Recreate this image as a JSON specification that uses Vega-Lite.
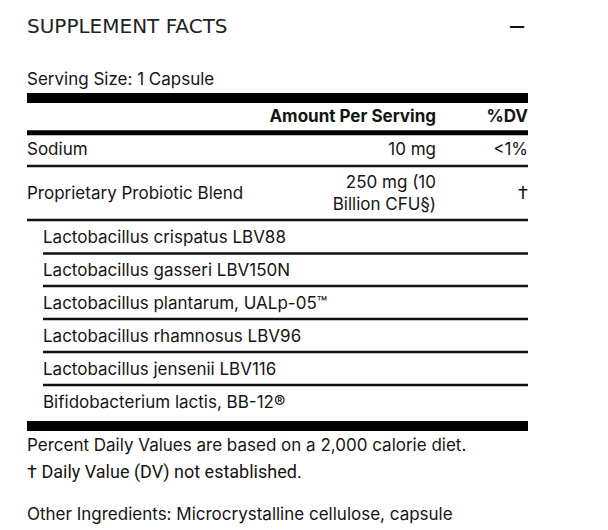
{
  "$schema": "https://vega.github.io/schema/vega-lite/v6.json",
  "width": 608,
  "height": 530,
  "autosize": {"type": "fit", "contains": "padding"},
  "padding": 0,
  "background": "white",
  "config": {"view": {"stroke": null}, "text": {"font": "Inter", "fontSize": 17, "color": "#151515", "baseline": "middle"}},
  "data": {"values": [
    {"kind": "title", "col": 0, "row": 0.62, "label": "SUPPLEMENT FACTS"},
    {"kind": "toggle", "col": 3, "row": 0.59, "label": "—"},
    {"kind": "text", "col": 0, "row": 2.22, "label": "Serving Size: 1 Capsule"},
    {"kind": "header", "col": 2, "row": 3.35, "label": "Amount Per Serving"},
    {"kind": "header", "col": 3, "row": 3.35, "label": "%DV"},
    {"kind": "text", "col": 0, "row": 4.35, "label": "Sodium"},
    {"kind": "text", "col": 2, "row": 4.35, "label": "10 mg"},
    {"kind": "text", "col": 3, "row": 4.35, "label": "<1%"},
    {"kind": "text", "col": 0, "row": 5.68, "label": "Proprietary Probiotic Blend"},
    {"kind": "text", "col": 2, "row": 5.35, "label": "250 mg (10"},
    {"kind": "text", "col": 2, "row": 6.01, "label": "Billion CFU§)"},
    {"kind": "dagger", "col": 3, "row": 5.68, "label": "†"},
    {"kind": "text", "col": 1, "row": 7, "label": "Lactobacillus crispatus LBV88"},
    {"kind": "text", "col": 1, "row": 8, "label": "Lactobacillus gasseri LBV150N"},
    {"kind": "text", "col": 1, "row": 9, "label": "Lactobacillus plantarum, UALp-05™"},
    {"kind": "text", "col": 1, "row": 10, "label": "Lactobacillus rhamnosus LBV96"},
    {"kind": "text", "col": 1, "row": 11, "label": "Lactobacillus jensenii LBV116"},
    {"kind": "text", "col": 1, "row": 12, "label": "Bifidobacterium lactis, BB-12®"},
    {"kind": "text", "col": 0, "row": 13.32, "label": "Percent Daily Values are based on a 2,000 calorie diet."},
    {"kind": "footnote", "col": 0, "row": 14.13, "label": "† Daily Value (DV) not established."},
    {"kind": "text", "col": 0, "row": 15.41, "label": "Other Ingredients: Microcrystalline cellulose, capsule"}
  ]},
  "layer": [
    {
      "data": {"values": [
        {"kind": "heavy", "from": 0, "to": 3, "row": 2.77},
        {"kind": "heavy", "from": 0, "to": 3, "row": 12.71},
        {"kind": "medium", "from": 0, "to": 3, "row": 3.82},
        {"kind": "light", "from": 0, "to": 3, "row": 4.83},
        {"kind": "light", "from": 0, "to": 3, "row": 6.47},
        {"kind": "light", "from": 1, "to": 3, "row": 7.48},
        {"kind": "light", "from": 1, "to": 3, "row": 8.47},
        {"kind": "light", "from": 1, "to": 3, "row": 9.47},
        {"kind": "light", "from": 1, "to": 3, "row": 10.47},
        {"kind": "light", "from": 1, "to": 3, "row": 11.47}
      ]},
      "layer": [
        {"transform": [{"filter": "datum.kind === 'heavy'"}], "mark": {"type": "rule", "strokeWidth": 10, "color": "#000"},
         "encoding": {"x": {"field": "from", "type": "quantitative", "scale": {"domain": [0, 1, 2, 3], "range": [27, 43, 436, 528], "zero": false, "nice": false}, "axis": null}, "x2": {"field": "to"}, "y": {"field": "row", "type": "quantitative", "scale": {"domain": [-0.2, 15.86], "range": [0, 530], "zero": false, "nice": false}, "axis": null}}},
        {"transform": [{"filter": "datum.kind === 'medium'"}], "mark": {"type": "rule", "strokeWidth": 5, "color": "#000"},
         "encoding": {"x": {"field": "from", "type": "quantitative", "scale": {"domain": [0, 1, 2, 3], "range": [27, 43, 436, 528], "zero": false, "nice": false}, "axis": null}, "x2": {"field": "to"}, "y": {"field": "row", "type": "quantitative", "scale": {"domain": [-0.2, 15.86], "range": [0, 530], "zero": false, "nice": false}, "axis": null}}},
        {"transform": [{"filter": "datum.kind === 'light'"}], "mark": {"type": "rule", "strokeWidth": 2.5, "color": "#111"},
         "encoding": {"x": {"field": "from", "type": "quantitative", "scale": {"domain": [0, 1, 2, 3], "range": [27, 43, 436, 528], "zero": false, "nice": false}, "axis": null}, "x2": {"field": "to"}, "y": {"field": "row", "type": "quantitative", "scale": {"domain": [-0.2, 15.86], "range": [0, 530], "zero": false, "nice": false}, "axis": null}}}
      ]
    },
    {"transform": [{"filter": "datum.kind === 'title'"}], "mark": {"type": "text", "align": "left", "font": "DejaVu Sans", "fontSize": 20, "color": "#222"},
     "encoding": {"x": {"field": "col", "type": "quantitative", "scale": {"domain": [0, 1, 2, 3], "range": [27, 43, 436, 528], "zero": false, "nice": false}, "axis": null}, "y": {"field": "row", "type": "quantitative", "scale": {"domain": [-0.2, 15.86], "range": [0, 530], "zero": false, "nice": false}, "axis": null}, "text": {"field": "label"}}},
    {"transform": [{"filter": "datum.kind === 'toggle'"}], "mark": {"type": "text", "align": "right", "font": "DejaVu Sans", "fontSize": 16, "fontWeight": "bold", "dx": -3, "color": "#111"},
     "encoding": {"x": {"field": "col", "type": "quantitative", "scale": {"domain": [0, 1, 2, 3], "range": [27, 43, 436, 528], "zero": false, "nice": false}, "axis": null}, "y": {"field": "row", "type": "quantitative", "scale": {"domain": [-0.2, 15.86], "range": [0, 530], "zero": false, "nice": false}, "axis": null}, "text": {"field": "label"}}},
    {"transform": [{"filter": "datum.kind === 'header'"}], "mark": {"type": "text", "align": "right", "fontWeight": "bold"},
     "encoding": {"x": {"field": "col", "type": "quantitative", "scale": {"domain": [0, 1, 2, 3], "range": [27, 43, 436, 528], "zero": false, "nice": false}, "axis": null}, "y": {"field": "row", "type": "quantitative", "scale": {"domain": [-0.2, 15.86], "range": [0, 530], "zero": false, "nice": false}, "axis": null}, "text": {"field": "label"}}},
    {"transform": [{"filter": "datum.kind === 'dagger'"}], "mark": {"type": "text", "align": "right", "font": "Roboto", "fontSize": 18},
     "encoding": {"x": {"field": "col", "type": "quantitative", "scale": {"domain": [0, 1, 2, 3], "range": [27, 43, 436, 528], "zero": false, "nice": false}, "axis": null}, "y": {"field": "row", "type": "quantitative", "scale": {"domain": [-0.2, 15.86], "range": [0, 530], "zero": false, "nice": false}, "axis": null}, "text": {"field": "label"}}},
    {"transform": [{"filter": "datum.kind === 'footnote'"}], "mark": {"type": "text", "align": "left", "font": "Roboto", "fontSize": 18},
     "encoding": {"x": {"field": "col", "type": "quantitative", "scale": {"domain": [0, 1, 2, 3], "range": [27, 43, 436, 528], "zero": false, "nice": false}, "axis": null}, "y": {"field": "row", "type": "quantitative", "scale": {"domain": [-0.2, 15.86], "range": [0, 530], "zero": false, "nice": false}, "axis": null}, "text": {"field": "label"}}},
    {"transform": [{"filter": "datum.kind === 'text' && datum.col <= 1"}], "mark": {"type": "text", "align": "left"},
     "encoding": {"x": {"field": "col", "type": "quantitative", "scale": {"domain": [0, 1, 2, 3], "range": [27, 43, 436, 528], "zero": false, "nice": false}, "axis": null}, "y": {"field": "row", "type": "quantitative", "scale": {"domain": [-0.2, 15.86], "range": [0, 530], "zero": false, "nice": false}, "axis": null}, "text": {"field": "label"}}},
    {"transform": [{"filter": "datum.kind === 'text' && datum.col >= 2"}], "mark": {"type": "text", "align": "right"},
     "encoding": {"x": {"field": "col", "type": "quantitative", "scale": {"domain": [0, 1, 2, 3], "range": [27, 43, 436, 528], "zero": false, "nice": false}, "axis": null}, "y": {"field": "row", "type": "quantitative", "scale": {"domain": [-0.2, 15.86], "range": [0, 530], "zero": false, "nice": false}, "axis": null}, "text": {"field": "label"}}}
  ]
}
